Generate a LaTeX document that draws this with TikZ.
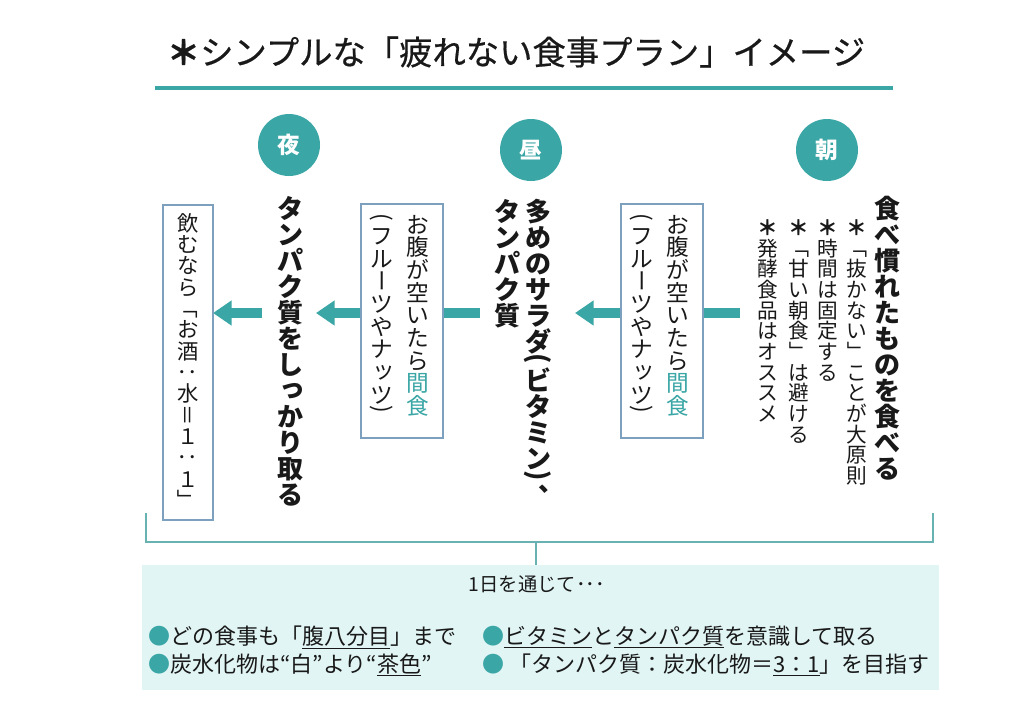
\documentclass[tikz,border=0pt]{standalone}
\usepackage{fontspec}
\usepackage{graphicx}
\usetikzlibrary{arrows.meta}
\setmainfont{Noto Sans CJK JP}
\newfontfamily\titlefont[FakeBold=0.6]{Noto Sans CJK JP}
\definecolor{teal1}{RGB}{58,166,165}
\definecolor{boxline}{RGB}{125,160,190}
\definecolor{brk}{RGB}{105,178,178}
\definecolor{panel}{RGB}{226,245,245}
\definecolor{ink}{RGB}{25,25,25}
\newcommand{\fs}[1]{\fontsize{#1}{#1}\selectfont}
\ExplSyntaxOn
\cs_new_protected:Npn \vt_strut: { \vrule height .88em depth .12em width 0pt }
\cs_new_protected:Npn \vt_full:n #1
  { \hbox_to_wd:nn {1em} { \hss \smash{#1} \hss \vt_strut: } }
\cs_new_protected:Npn \vt_rot:n #1
  { \hbox_to_wd:nn {1em} { \hss \smash{\rotatebox[origin=c]{-90}{\vt_strut: #1}} \hss \vt_strut: } }
\cs_new_protected:Npn \vt_shift:nnn #1#2#3
  { \hbox_to_wd:nn {1em} { \kern #1 \smash{\raisebox{#2}{\hbox_to_wd:nn{1em}{\hss #3 \hss}}} \kern -#1 \vt_strut: } }
\cs_new_protected:Npn \vt_half:n #1
  { \vbox_to_ht:nn {.5em} { \vss \hbox_to_wd:nn {1em} { \hss \rotatebox[origin=c]{-90}{\vt_strut: #1} \hss } \vss } }
\cs_new_protected:Npn \vt_cell:n #1
  {
    \str_case:nnF {#1}
      {
        {ー}{\vt_rot:n{ー}}
        {「}{\vt_rot:n{「}}
        {」}{\vt_rot:n{」}}
        {：}{\vt_rot:n{：}}
        {＝}{\vt_rot:n{＝}}
        {(}{\vt_half:n{(}}
        {)}{\vt_half:n{)}}
        {、}{\vt_shift:nnn{.5em}{.62em}{、}}
        {ッ}{\vt_shift:nnn{.1em}{.1em}{ッ}}
        {っ}{\vt_shift:nnn{.1em}{.1em}{っ}}
      }
      { \vt_full:n {#1} }
  }
\NewDocumentCommand \vtext { m }
  { \vbox { \offinterlineskip \tl_map_function:nN {#1} \vt_cell:n } }
\ExplSyntaxOff
\newcommand{\bast}{{\bfseries ＊}}
\begin{document}
\begin{tikzpicture}[x=0.75pt,y=-0.75pt,
  vt/.style={anchor=north, inner sep=0pt, text=ink},
  vmain/.style={vt, font=\bfseries\fs{19.5pt}},
  vsub/.style={vt, font=\fs{15.5pt}},
  vbox/.style={vt, font=\fs{17pt}},
  circ/.style={circle, fill=teal1, minimum size=46.5pt, inner sep=0pt, text=white, font=\bfseries\fs{17pt}},
  snack/.style={draw=boxline, line width=0.8pt, fill=white, minimum width=61.5pt, minimum height=175.5pt, inner sep=0pt},
  flow/.style={line width=8pt, draw=teal1, -{Triangle[length=14pt,width=18pt]}},
  bracket/.style={draw=brk, line width=1.2pt},
  row/.style={anchor=west, inner sep=0pt, text=ink, font=\fs{16.5pt}}]
\useasboundingbox (0,0) rectangle (1024,719);
\fill[white] (0,0) rectangle (1024,719);
% title
\node[text=ink, font=\titlefont\fs{25pt}] (title) at (516,52) {\bast シンプルな「疲れない食事プラン」イメージ};
\coordinate (tl) at (155,88);
\coordinate (tr) at (893,88);
\draw[teal1, line width=3pt] (tl) -- (tr);
% circles
\node[circ] (yoru) at (289,145) {夜};
\node[circ] (hiru) at (531,150) {昼};
\node[circ] (asa) at (827,150) {朝};
% arrows
\coordinate (a1s) at (740,313); \coordinate (a1e) at (575,313);
\coordinate (a2s) at (480,313); \coordinate (a2e) at (316,313);
\coordinate (a3s) at (262,313); \coordinate (a3e) at (213,313);
\draw[flow] (a1s) -- (a1e);
\draw[flow] (a2s) -- (a2e);
\draw[flow] (a3s) -- (a3e);
% morning
\node[vmain] (asamain) at (887,195) {\vtext{食べ慣れたものを食べる}};
\node[vsub] (asa1) at (857,217) {\vtext{{\bast}「抜かない」ことが大原則}};
\node[vsub] (asa2) at (828,217) {\vtext{{\bast}時間は固定する}};
\node[vsub] (asa3) at (799,217) {\vtext{{\bast}「甘い朝食」は避ける}};
\node[vsub] (asa4) at (768,217) {\vtext{{\bast}発酵食品はオススメ}};
% snack 1
\node[snack] (box1) at (662,321) {};
\node[vbox] (b1a) at (678,213) {\vtext{お腹が空いたら{\textcolor{teal1}{間}}{\textcolor{teal1}{食}}}};
\node[vbox] (b1b) at (642,213) {\vtext{(フルーツやナッツ)}};
% noon
\node[vmain] (hiru1) at (538,198) {\vtext{多めのサラダ(ビタミン)、}};
\node[vmain] (hiru2) at (507,198) {\vtext{タンパク質}};
% snack 2
\node[snack] (box2) at (402,321) {};
\node[vbox] (b2a) at (418,213) {\vtext{お腹が空いたら{\textcolor{teal1}{間}}{\textcolor{teal1}{食}}}};
\node[vbox] (b2b) at (382,213) {\vtext{(フルーツやナッツ)}};
% night
\node[vmain] (yorumain) at (290,195) {\vtext{タンパク質をしっかり取る}};
\node[snack, minimum width=37.5pt, minimum height=236.25pt] (box3) at (188,362.5) {};
\node[vt, font=\fs{16pt}] (b3) at (188,212) {\vtext{飲むなら「お酒：水＝１：１」}};
% bracket
\coordinate (bl) at (146,513); \coordinate (bl2) at (146,542);
\coordinate (br) at (933,513); \coordinate (br2) at (933,542);
\coordinate (bm) at (536,542); \coordinate (bm2) at (536,565);
\draw[bracket] (bl) -- (bl2) -- (br2) -- (br);
\draw[bracket] (bm) -- (bm2);
% panel
\fill[panel] (142,565) rectangle (939,690);
\node[text=ink, font=\fs{14.5pt}] (through) at (537,584) {1日を通じて･･･};
\node[row] (r1) at (148,637) {\textcolor{teal1}{●}どの食事も「\underline{腹八分目}」まで};
\node[row] (r2) at (482,637) {\textcolor{teal1}{●}\underline{ビタミン}と\underline{タンパク質}を意識して取る};
\node[row] (r3) at (148,665) {\textcolor{teal1}{●}炭水化物は“白”より“\underline{茶色}”};
\node[row] (r4) at (482,665) {\textcolor{teal1}{●} 「タンパク質：炭水化物＝\underline{3：1}」を目指す};
\end{tikzpicture}
\end{document}
